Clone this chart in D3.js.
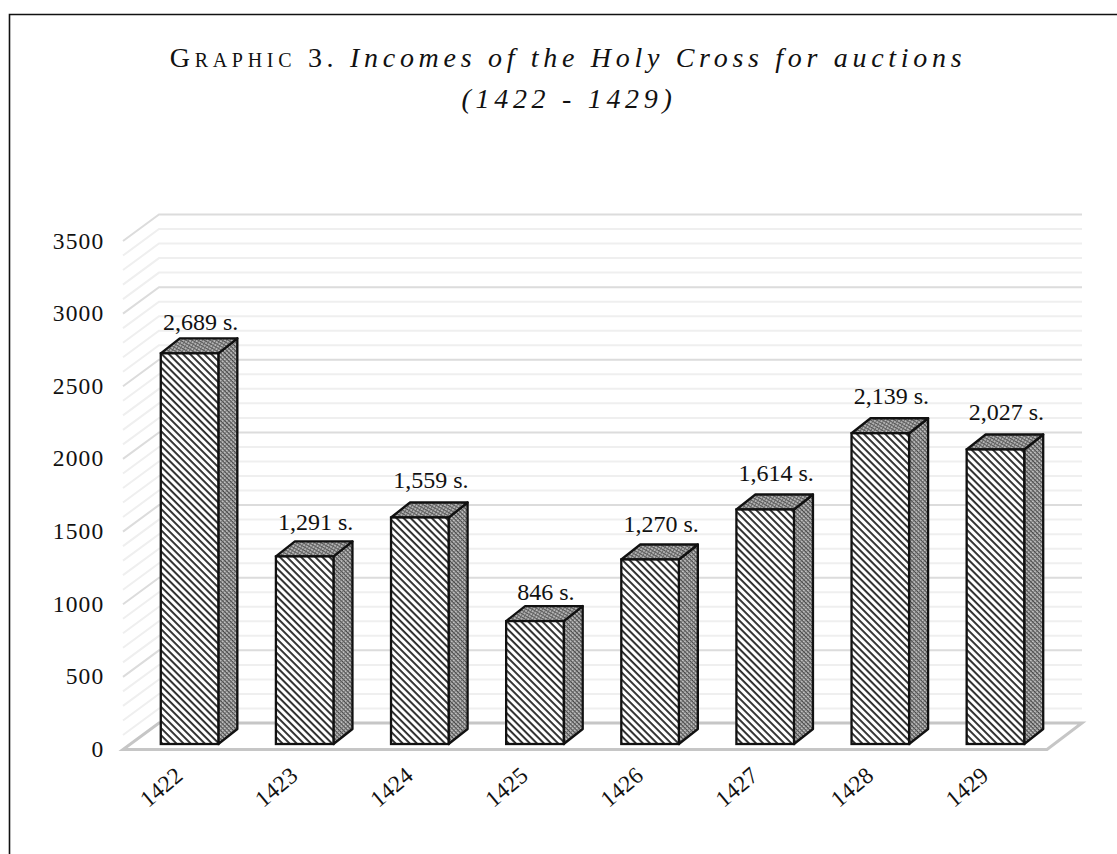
<!DOCTYPE html>
<html>
<head>
<meta charset="utf-8">
<script src="https://cdn.jsdelivr.net/npm/d3@7/dist/d3.min.js"></script>
<style>
html,body{margin:0;padding:0;background:#fff;}
svg{display:block;}
text{font-family:"Liberation Serif",serif;fill:#111;}
</style>
</head>
<body>
<svg id="chart" width="1117" height="854"></svg>
<script>
// Auction income per year, in sueldos
const years = ["1422","1423","1424","1425","1426","1427","1428","1429"];
const incomes = [2689,1291,1559,846,1270,1614,2139,2027];
const valueLabels = ["2,689 s.","1,291 s.","1,559 s.","846 s.","1,270 s.","1,614 s.","2,139 s.","2,027 s."];
const majorTicks = [0,500,1000,1500,2000,2500,3000,3500];
const minorTicks = [100,200,300,400,600,700,800,900,1100,1200,1300,1400,1600,1700,1800,1900,2100,2200,2300,2400,2600,2700,2800,2900,3100,3200,3300,3400];

const svg = d3.select("#chart");

const y = d3.scaleLinear().domain([0,3500]).range([749.5,241]);
const x = d3.scaleBand().domain(years).range([125,1046]).paddingInner(0.5).paddingOuter(0.25);

// Oblique projection of the chart box
const wallDx = 36, wallDy = -26.5;
const barDx = 19, barDy = -15;
const barShiftX = 7, barShiftY = -5.5;

// Gap between each bar's front top edge and its hand-placed value label
const labelGaps = [23,26,29,21,27,29,29,30];

// Hatch fills
const defs = svg.append("defs");
const front = defs.append("pattern").attr("id","hatchFront").attr("patternUnits","userSpaceOnUse")
  .attr("width",5).attr("height",5).attr("patternTransform","rotate(45)");
front.append("rect").attr("width",5).attr("height",5).attr("fill","#fff");
front.append("rect").attr("width",5).attr("height",1.9).attr("fill","#2a2a2a");

const side = defs.append("pattern").attr("id","hatchSide").attr("patternUnits","userSpaceOnUse")
  .attr("width",3).attr("height",3).attr("patternTransform","rotate(45)");
side.append("rect").attr("width",3).attr("height",3).attr("fill","#c4c4c4");
side.append("rect").attr("width",3).attr("height",1.2).attr("fill","#444");
side.append("rect").attr("width",0.8).attr("height",3).attr("fill","#666");

const top3d = defs.append("pattern").attr("id","hatchTop").attr("patternUnits","userSpaceOnUse")
  .attr("width",3).attr("height",3).attr("patternTransform","rotate(30)");
top3d.append("rect").attr("width",3).attr("height",3).attr("fill","#b8b8b8");
top3d.append("rect").attr("width",3).attr("height",1.1).attr("fill","#555");
top3d.append("rect").attr("width",0.9).attr("height",3).attr("fill","#666");

// Frame: open on the right and at the bottom
svg.append("path").attr("d","M9.5,854V14.5H1117").attr("fill","none").attr("stroke","#111").attr("stroke-width",1.6);

// Back wall and left wall gridlines
const grid = svg.append("g").attr("fill","none");
const gridPath = v => `M${x.range()[0]-2},${y(v)}L${x.range()[0]-2+wallDx},${y(v)+wallDy}H1082`;
grid.selectAll("path.minor").data(minorTicks).join("path").attr("class","minor")
  .attr("d",gridPath).attr("stroke","#efefef").attr("stroke-width",2);
grid.selectAll("path.major").data(majorTicks.filter(d=>d>0)).join("path").attr("class","major")
  .attr("d",gridPath).attr("stroke","#dcdcdc").attr("stroke-width",2);

// Floor
svg.append("path")
  .attr("d",`M${x.range()[0]-2},${y(0)}H1047L1082,${y(0)+wallDy}H${x.range()[0]-2+wallDx}Z`)
  .attr("fill","none").attr("stroke","#c6c6c6").attr("stroke-width",3);

// Value axis
const yAxis = d3.axisLeft(y).tickValues(majorTicks).tickSize(0).tickPadding(0).tickFormat(d3.format("d"));
const gy = svg.append("g").attr("transform","translate(104.5,-0.5)").call(yAxis);
gy.select(".domain").remove();
gy.selectAll("text").attr("font-size",23.5).style("letter-spacing","1.2px").attr("fill","#111");

// Bars
const bars = svg.append("g").selectAll("g").data(years).join("g");
const bw = x.bandwidth();
const left = d => x(d) + barShiftX;
const base = y(0) + barShiftY;
const topOf = (d,i) => base - (y(0) - y(incomes[i]));

bars.append("path")
  .attr("d",(d,i)=>`M${left(d)+bw},${topOf(d,i)}l${barDx},${barDy}V${base+barDy}l${-barDx},${-barDy}Z`)
  .attr("fill","url(#hatchSide)").attr("stroke","#111").attr("stroke-width",2.3).attr("stroke-linejoin","round");
bars.append("path")
  .attr("d",(d,i)=>`M${left(d)},${topOf(d,i)}l${barDx},${barDy}h${bw}l${-barDx},${-barDy}Z`)
  .attr("fill","url(#hatchTop)").attr("stroke","#111").attr("stroke-width",2.3).attr("stroke-linejoin","round");
bars.append("rect")
  .attr("x",left).attr("y",topOf).attr("width",bw).attr("height",(d,i)=>base-topOf(d,i))
  .attr("fill","url(#hatchFront)").attr("stroke","#111").attr("stroke-width",2.3);

// Value labels above each bar
bars.append("text")
  .attr("x",d=>left(d)+bw/2+11).attr("y",(d,i)=>topOf(d,i)-labelGaps[i])
  .attr("text-anchor","middle").attr("font-size",24)
  .text((d,i)=>valueLabels[i]);

// Year labels, rotated
svg.append("g").selectAll("text").data(years).join("text")
  .attr("transform",d=>`translate(${left(d)+2},${789}) rotate(-40)`)
  .attr("text-anchor","middle").attr("dominant-baseline","middle")
  .attr("font-size",23.5).text(d=>d);

// Title
const title = svg.append("g").attr("text-anchor","middle");
const t1 = title.append("text").attr("x",568).attr("y",67).attr("font-size",28).style("letter-spacing","4.7px");
t1.append("tspan").style("font-variant","small-caps").text("Graphic 3. ");
t1.append("tspan").attr("font-style","italic").text("Incomes of the Holy Cross for auctions");
title.append("text").attr("x",569).attr("y",108).attr("font-size",28).attr("font-style","italic")
  .style("letter-spacing","4.7px").text("(1422 - 1429)");
</script>
</body>
</html>
